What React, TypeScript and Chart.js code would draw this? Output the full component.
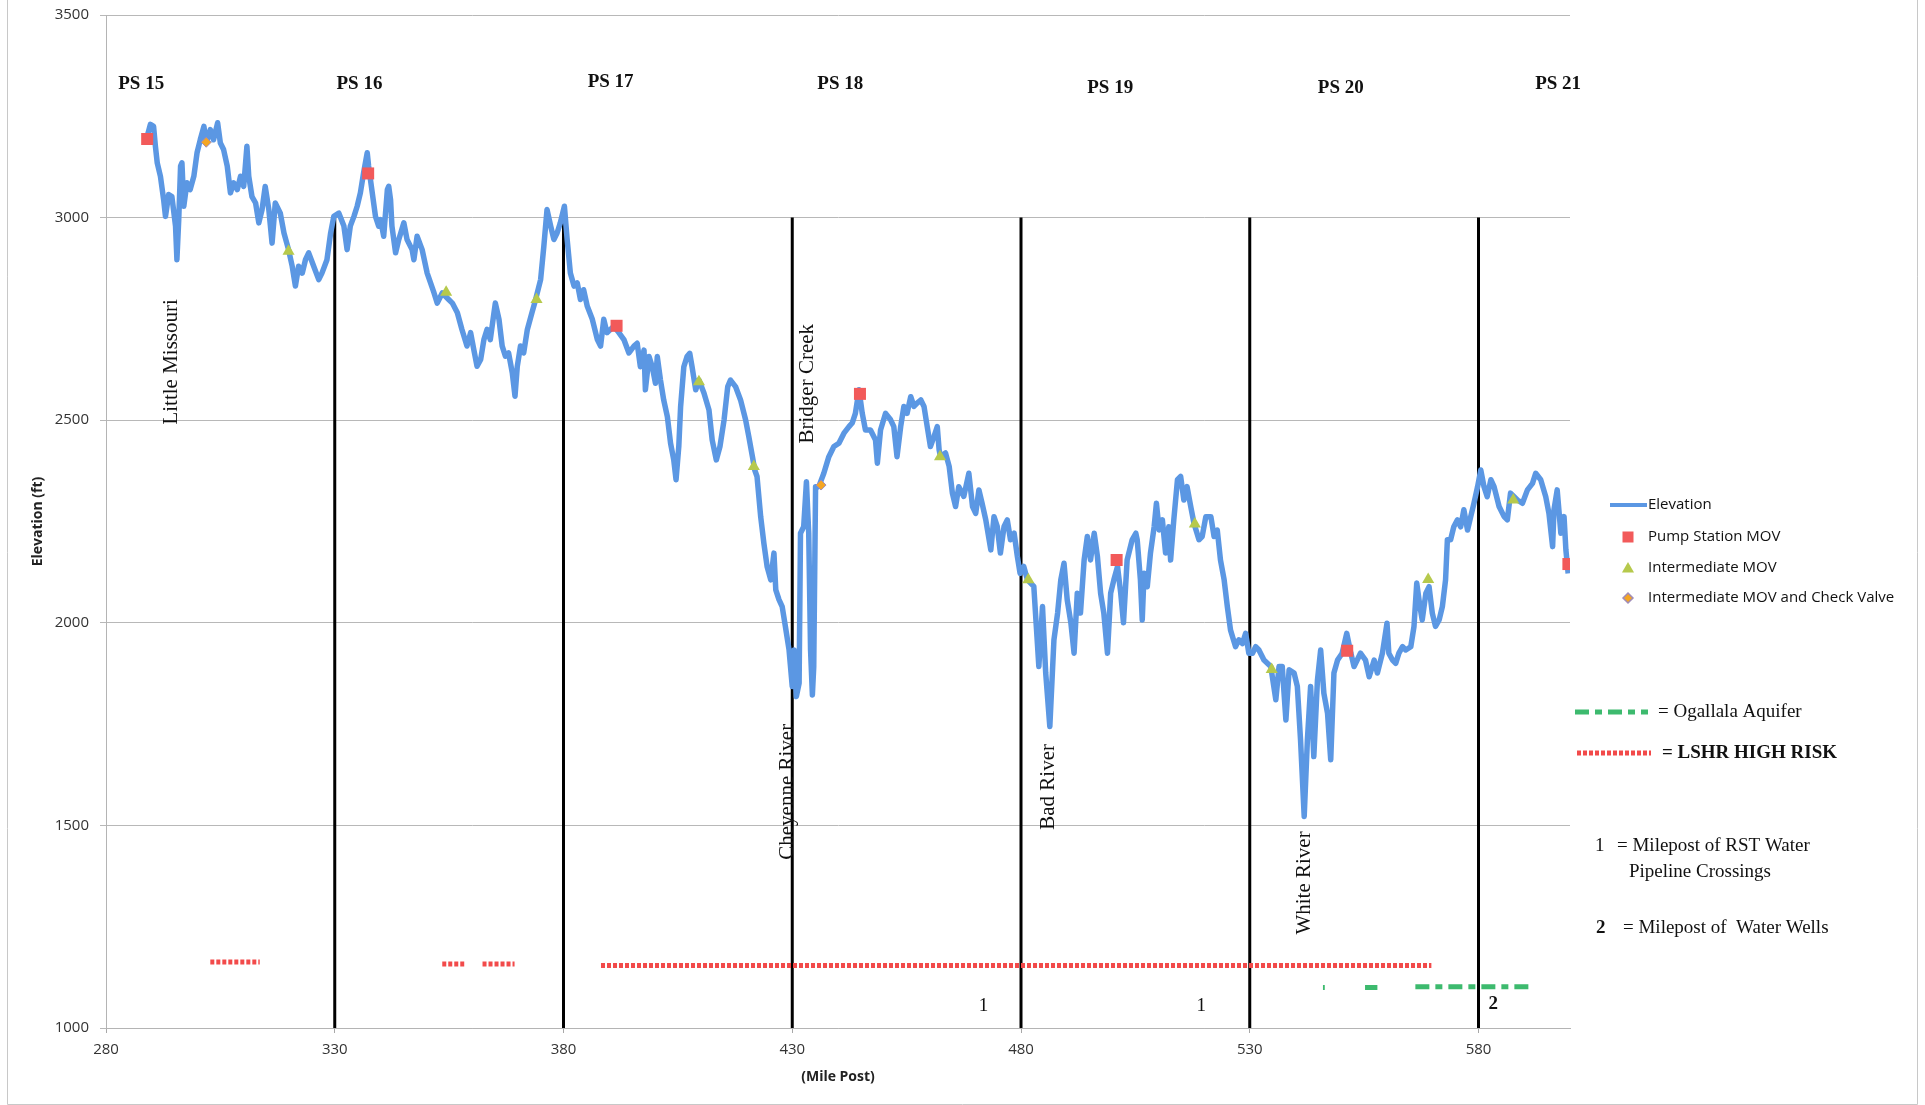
import React, { useEffect, useRef } from 'react';
import { Chart, registerables } from 'chart.js';

Chart.register(...registerables);

const W = 1925;
const H = 1105;

// ---------------- data ----------------
const xTickValues = [280, 330, 380, 430, 480, 530, 580];
const xMin = 280;
const xMax = 600;
const yMin = 1000;
const yMax = 3500;
const yStep = 500;

// elevation profile: [milepost, elevation ft]
const elevationProfile: [number, number][] = [
  [289.0, 3200], [289.7, 3230], [290.4, 3225], [290.8, 3176], [291.2, 3135], [291.9, 3102], [292.6, 3044], [293.0, 3003],
  [293.7, 3057], [294.4, 3052], [295.2, 2979], [295.5, 2896], [295.9, 2995], [296.3, 3127], [296.6, 3135], [297.0, 3028],
  [297.7, 3086], [298.4, 3069], [299.2, 3102], [299.9, 3160], [300.6, 3192], [301.4, 3225], [301.9, 3184], [302.8, 3217],
  [303.5, 3192], [304.4, 3234], [305.0, 3184], [305.7, 3168], [306.5, 3127], [307.2, 3061], [307.9, 3086], [308.7, 3069],
  [309.4, 3102], [310.1, 3077], [310.8, 3176], [311.2, 3102], [311.9, 3052], [312.7, 3036], [313.4, 2987], [314.1, 3019],
  [314.8, 3077], [315.6, 3019], [316.3, 2937], [317.0, 3036], [318.1, 3011], [318.9, 2962], [319.9, 2921], [320.7, 2880],
  [321.4, 2831], [322.1, 2880], [322.9, 2863], [323.6, 2896], [324.3, 2913], [325.4, 2880], [326.5, 2847], [327.2, 2863],
  [328.3, 2896], [329.1, 2962], [329.8, 3003], [330.9, 3011], [332.0, 2979], [332.7, 2921], [333.4, 2979], [334.2, 3003],
  [334.9, 3028], [335.6, 3061], [336.3, 3110], [337.1, 3160], [337.4, 3127], [338.2, 3061], [338.9, 3003], [339.6, 2979],
  [340.0, 2995], [340.7, 2954], [341.5, 3069], [341.8, 3077], [342.2, 3044], [342.5, 2979], [343.3, 2913], [344.0, 2946],
  [345.1, 2987], [345.8, 2946], [346.9, 2921], [347.3, 2896], [348.0, 2954], [349.1, 2921], [350.2, 2863], [351.7, 2814],
  [352.4, 2789], [353.5, 2814], [354.9, 2798], [355.7, 2789], [356.8, 2765], [357.8, 2724], [358.9, 2683], [359.7, 2716],
  [360.4, 2674], [361.1, 2633], [361.9, 2650], [362.6, 2699], [363.3, 2724], [364.0, 2699], [364.8, 2765], [365.1, 2789],
  [365.9, 2749], [366.6, 2683], [367.3, 2658], [368.0, 2666], [368.8, 2617], [369.4, 2559], [369.9, 2633], [370.6, 2683],
  [371.3, 2666], [372.1, 2724], [373.1, 2765], [373.7, 2789], [375.0, 2847], [375.7, 2929], [376.4, 3020], [377.2, 2979],
  [377.9, 2946], [378.6, 2962], [379.3, 2987], [380.2, 3028], [380.8, 2946], [381.5, 2863], [382.3, 2831], [383.0, 2839],
  [383.7, 2798], [384.4, 2822], [385.2, 2781], [386.3, 2749], [387.4, 2699], [388.1, 2683], [388.8, 2749], [389.5, 2716],
  [391.0, 2732], [392.1, 2716], [393.2, 2699], [394.3, 2666], [395.4, 2683],
  [396.1, 2690], [396.8, 2632], [397.6, 2673], [397.9, 2575], [398.7, 2657], [399.4, 2632], [400.1, 2591], [400.5, 2657],
  [401.2, 2599], [401.9, 2550], [402.7, 2509], [403.4, 2443], [404.1, 2402], [404.6, 2353], [405.2, 2435], [405.6, 2534],
  [406.3, 2632], [407.0, 2657], [407.6, 2665], [408.1, 2632], [408.9, 2575], [409.6, 2599], [410.7, 2567], [411.8, 2525],
  [412.5, 2451], [413.4, 2402], [414.2, 2435], [415.1, 2501], [415.9, 2583], [416.5, 2599], [417.6, 2583], [418.7, 2550],
  [419.8, 2501], [420.5, 2460], [421.3, 2410], [421.8, 2377], [422.3, 2361], [423.1, 2262], [423.8, 2196], [424.5, 2139],
  [425.3, 2106], [426.0, 2172], [426.4, 2081], [427.1, 2057], [427.8, 2040], [428.5, 1991], [429.3, 1933], [430.0, 1843],
  [430.4, 1933], [430.9, 1818], [431.5, 1851], [431.8, 2221], [432.5, 2237], [433.1, 2348], [433.6, 2221], [434.0, 1933],
  [434.4, 1822], [434.7, 1892], [435.1, 2336], [435.8, 2336], [436.9, 2369], [438.0, 2410], [439.1, 2435], [440.2, 2443],
  [441.3, 2468], [442.4, 2484], [443.1, 2493], [443.8, 2517], [444.6, 2575], [445.3, 2517], [446.0, 2476], [447.1, 2476],
  [448.2, 2451], [448.6, 2394], [449.3, 2476], [450.4, 2517],
  [451.5, 2501], [452.2, 2484], [452.9, 2410], [453.7, 2484], [454.4, 2534], [455.1, 2517], [455.9, 2558], [456.6, 2534],
  [457.3, 2542], [458.1, 2550], [458.8, 2534], [459.5, 2484], [460.2, 2435], [461.0, 2460], [461.7, 2484], [462.1, 2427],
  [462.4, 2410], [463.5, 2419], [464.3, 2386], [465.0, 2320], [465.7, 2287], [466.4, 2336], [467.5, 2312], [468.6, 2369],
  [469.4, 2287], [470.1, 2270], [470.8, 2328], [471.5, 2295], [472.3, 2254], [473.4, 2180], [474.1, 2262], [474.8, 2238],
  [475.5, 2172], [476.3, 2238], [477.0, 2254], [477.7, 2205], [478.5, 2221], [479.2, 2164], [479.8, 2122], [480.6, 2139],
  [481.4, 2106], [482.8, 2090], [483.9, 1892], [484.7, 2040], [485.4, 1876], [486.3, 1744], [487.2, 1958], [488.0, 2024],
  [488.7, 2106], [489.4, 2147], [490.1, 2057], [490.9, 2000], [491.6, 1925], [492.3, 2073], [493.0, 2024], [493.8, 2155],
  [494.5, 2213], [495.2, 2155], [496.0, 2221], [496.7, 2164], [497.4, 2073], [498.1, 2024], [498.9, 1925], [499.6, 2073],
  [500.3, 2106], [501.1, 2139], [501.8, 2073], [502.4, 2000], [503.2, 2155], [504.3, 2205], [505.1, 2221],
  [505.4, 2205], [506.1, 2106], [506.5, 2007], [506.9, 2122], [507.6, 2089], [508.3, 2172], [509.1, 2237], [509.6, 2295],
  [510.2, 2229], [510.9, 2254], [511.6, 2172], [512.3, 2237], [512.7, 2155], [513.4, 2254], [514.2, 2353], [514.9, 2361],
  [515.6, 2303], [516.3, 2336], [517.1, 2287], [517.8, 2246], [518.9, 2205], [519.6, 2213], [520.4, 2262], [521.5, 2262],
  [522.2, 2213], [522.9, 2229], [523.6, 2155], [524.4, 2106], [525.1, 2040], [525.8, 1982], [526.9, 1941], [527.6, 1958],
  [528.4, 1949], [529.1, 1974], [529.8, 1925], [530.6, 1925], [531.3, 1941], [532.0, 1933], [533.1, 1908], [534.6, 1892],
  [535.7, 1810], [536.4, 1892], [537.1, 1892], [537.9, 1760], [538.6, 1884], [539.7, 1876], [540.4, 1843], [541.1, 1711],
  [541.9, 1522], [542.6, 1711], [543.3, 1843], [544.0, 1670], [544.8, 1859], [545.5, 1933], [546.2, 1826], [547.0, 1777],
  [547.7, 1662], [548.4, 1876], [549.2, 1908], [550.2, 1925], [551.2, 1974], [552.1, 1925], [552.8, 1892], [554.2, 1925],
  [555.3, 1908], [556.1, 1867], [557.2, 1908], [557.9, 1876], [559.0, 1925], [560.0, 1999],
  [560.4, 1925], [561.2, 1908], [561.9, 1900], [562.6, 1925], [563.4, 1941], [564.1, 1933], [565.2, 1941], [565.9, 1991],
  [566.5, 2098], [567.2, 2040], [567.7, 2007], [568.5, 2073], [569.2, 2089], [569.9, 2024], [570.6, 1991], [571.4, 2007],
  [572.1, 2040], [572.8, 2106], [573.2, 2205], [573.9, 2205], [574.6, 2237], [575.4, 2254], [576.1, 2237], [576.8, 2279],
  [577.6, 2229], [578.3, 2262], [579.0, 2295], [579.8, 2336], [580.5, 2377], [581.2, 2336], [581.9, 2311], [582.7, 2353],
  [583.4, 2336], [584.5, 2287], [585.6, 2262], [586.3, 2254], [587.0, 2320], [588.5, 2303], [589.6, 2295], [590.7, 2328],
  [591.8, 2344], [592.5, 2369], [593.6, 2353], [594.7, 2311], [595.4, 2270], [596.2, 2188], [596.5, 2279], [597.2, 2328],
  [598.0, 2221], [598.7, 2262], [599.1, 2180], [599.6, 2122],
];

const pumpMiles = [289.0, 337.3, 391.6, 444.8, 500.9, 551.3, 599.65];
const pumpElev = [3194, 3109, 2733, 2565, 2155, 1931, 2145];

const midMiles = [319.9, 354.35, 374.1, 409.6, 421.6, 462.3, 481.6, 518.0, 534.8, 569.0, 587.6];
const midElev = [2917, 2816, 2798, 2595, 2386, 2410, 2106, 2244, 1885, 2107, 2303];

const checkMiles = [301.9, 436.3];
const checkElev = [3186, 2340];

const stationMiles = [330, 380, 430, 480, 530, 580];
const stationLineTop = 3000;

const psNames = ['PS 15', 'PS 16', 'PS 17', 'PS 18', 'PS 19', 'PS 20', 'PS 21'];
const psLabelMiles = [287.7, 335.4, 390.3, 440.5, 499.5, 549.9, 597.4];
const psLabelElev = [3329, 3329, 3335, 3329, 3320, 3320, 3329];

const riverNames = ['Little Missouri', 'Bridger Creek', 'Cheyenne River', 'Bad River', 'White River'];
const riverMiles = [294.4, 433.3, 429.0, 486.1, 542.0];
const riverElev = [2644, 2590, 1583, 1595, 1358];

const crossingMarks = ['1', '1', '2'];
const crossingMiles = [471.8, 519.4, 583.2];
const crossingElev = [1055, 1055, 1058];

const riskStart = [302.8, 353.5, 362.3, 388.2];
const riskEnd = [313.6, 358.3, 369.3, 569.7];
const riskElev = [1163, 1158, 1158, 1154];

const aquiferStart = [546.0, 555.2, 566.2];
const aquiferEnd = [546.4, 557.9, 591.6];
const aquiferElev = [1100, 1100, 1102];

// ---------------- styles ----------------
const BLUE = '#5b97e3';
const RED_SQ = '#f25a5a';
const TRI = '#b6c94c';
const DIA = '#f5a623';
const DIA_BORDER = '#a08cb8';
const RISK = '#f24a4a';
const AQUI = '#3dba6e';
const SERIF = '"Liberation Serif", "Times New Roman", serif';
const SANS = '"Open Sans", sans-serif';

const pts = (xs: number[], ys: number[]) => xs.map((x, i) => ({ x, y: ys[i] }));
const segs = (s: number[], e: number[], v: number[]) => {
  const out: { x: number; y: number | null }[] = [];
  s.forEach((x0, i) => {
    out.push({ x: x0, y: v[i] }, { x: e[i], y: v[i] }, { x: e[i], y: null });
  });
  return out;
};
const verticals = () => {
  const out: { x: number; y: number | null }[] = [];
  stationMiles.forEach((m) => {
    out.push({ x: m, y: yMin }, { x: m, y: stationLineTop }, { x: m, y: null });
  });
  return out;
};

function drawTri(ctx: CanvasRenderingContext2D, cx: number, cy: number, r: number) {
  ctx.beginPath();
  ctx.moveTo(cx, cy - r);
  ctx.lineTo(cx + r * 0.866, cy + r / 2);
  ctx.lineTo(cx - r * 0.866, cy + r / 2);
  ctx.closePath();
  ctx.fill();
}
function drawDia(ctx: CanvasRenderingContext2D, cx: number, cy: number, r: number) {
  ctx.beginPath();
  ctx.moveTo(cx - r, cy);
  ctx.lineTo(cx, cy - r);
  ctx.lineTo(cx + r, cy);
  ctx.lineTo(cx, cy + r);
  ctx.closePath();
  ctx.fill();
  ctx.stroke();
}

const annotatePlugin = {
  id: 'annotate',
  afterDatasetsDraw(chart: any) {
    const { ctx } = chart;
    const x = chart.scales.x;
    const y = chart.scales.y;
    ctx.save();
    ctx.fillStyle = '#111';
    ctx.textAlign = 'center';
    ctx.textBaseline = 'middle';
    ctx.font = `bold 19px ${SERIF}`;
    psNames.forEach((t, i) => {
      ctx.fillText(t, x.getPixelForValue(psLabelMiles[i]), y.getPixelForValue(psLabelElev[i]));
    });
    ctx.font = `21px ${SERIF}`;
    riverNames.forEach((t, i) => {
      ctx.save();
      ctx.translate(x.getPixelForValue(riverMiles[i]), y.getPixelForValue(riverElev[i]));
      ctx.rotate(-Math.PI / 2);
      ctx.fillText(t, 0, 0);
      ctx.restore();
    });
    crossingMarks.forEach((t, i) => {
      ctx.font = t === '2' ? `bold 19px ${SERIF}` : `19px ${SERIF}`;
      ctx.fillText(t, x.getPixelForValue(crossingMiles[i]), y.getPixelForValue(crossingElev[i]));
    });
    ctx.restore();
  },
  afterDraw(chart: any) {
    const { ctx } = chart;
    const ds = chart.data.datasets;
    ctx.save();
    // outer frame
    ctx.strokeStyle = '#c8c8c8';
    ctx.lineWidth = 1;
    ctx.beginPath();
    ctx.moveTo(7.5, 0);
    ctx.lineTo(7.5, 1104.5);
    ctx.lineTo(1917.5, 1104.5);
    ctx.lineTo(1917.5, 0);
    ctx.stroke();

    // series legend
    const lx = 1628;
    const tx = 1648;
    ctx.font = `15px ${SANS}`;
    ctx.textAlign = 'left';
    ctx.textBaseline = 'middle';
    ctx.strokeStyle = BLUE;
    ctx.lineWidth = 4;
    ctx.beginPath();
    ctx.moveTo(1610, 505);
    ctx.lineTo(1647, 505);
    ctx.stroke();
    ctx.fillStyle = '#111';
    ctx.fillText(ds[3].label, tx, 505);
    ctx.fillStyle = RED_SQ;
    ctx.fillRect(lx - 5.5, 537 - 5.5, 11, 11);
    ctx.fillStyle = '#111';
    ctx.fillText(ds[0].label, tx, 537);
    ctx.fillStyle = TRI;
    drawTri(ctx, lx, 569, 7);
    ctx.fillStyle = '#111';
    ctx.fillText(ds[1].label, tx, 568);
    ctx.fillStyle = DIA;
    ctx.strokeStyle = DIA_BORDER;
    ctx.lineWidth = 1.5;
    drawDia(ctx, lx, 598, 5);
    ctx.fillStyle = '#111';
    ctx.fillText(ds[2].label, tx, 598);

    // line-style key
    ctx.lineCap = 'butt';
    ctx.strokeStyle = AQUI;
    ctx.lineWidth = 5;
    ctx.setLineDash([14, 6, 7, 6]);
    ctx.beginPath();
    ctx.moveTo(1575, 712);
    ctx.lineTo(1648, 712);
    ctx.stroke();
    ctx.strokeStyle = RISK;
    ctx.setLineDash([4, 2]);
    ctx.beginPath();
    ctx.moveTo(1577, 753);
    ctx.lineTo(1651, 753);
    ctx.stroke();
    ctx.setLineDash([]);

    ctx.fillStyle = '#111';
    ctx.font = `19px ${SERIF}`;
    ctx.fillText('= ' + ds[5].label, 1658, 712);
    ctx.font = `bold 19px ${SERIF}`;
    ctx.fillText('= ' + ds[4].label, 1662, 753);

    ctx.font = `19px ${SERIF}`;
    ctx.fillText('1', 1595, 846);
    ctx.fillText('= Milepost of RST Water', 1617, 846);
    ctx.fillText('Pipeline Crossings', 1629, 872);
    ctx.font = `bold 19px ${SERIF}`;
    ctx.fillText('2', 1596, 928);
    ctx.font = `19px ${SERIF}`;
    ctx.fillText('= Milepost of  Water Wells', 1623, 928);
    ctx.restore();
  },
};

export default function App() {
  const ref = useRef<HTMLCanvasElement>(null);

  useEffect(() => {
    const canvas = ref.current;
    if (!canvas) return;
    Chart.defaults.font.family = SANS;
    const chart = new Chart(canvas, {
      type: 'line',
      data: {
        datasets: [
          {
            label: 'Pump Station MOV',
            data: pts(pumpMiles, pumpElev),
            showLine: false,
            pointStyle: 'rect',
            pointRadius: 8.5,
            pointBackgroundColor: RED_SQ,
            pointBorderWidth: 0,
          },
          {
            label: 'Intermediate MOV',
            data: pts(midMiles, midElev),
            showLine: false,
            pointStyle: 'triangle',
            pointRadius: 7,
            pointBackgroundColor: TRI,
            pointBorderWidth: 0,
          },
          {
            label: 'Intermediate MOV and Check Valve',
            data: pts(checkMiles, checkElev),
            showLine: false,
            pointStyle: 'rectRot',
            pointRadius: 5,
            pointBackgroundColor: DIA,
            pointBorderColor: DIA_BORDER,
            pointBorderWidth: 1,
          },
          {
            label: 'Elevation',
            data: elevationProfile.map(([x, y]) => ({ x, y })),
            borderColor: BLUE,
            borderWidth: 5.5,
            borderJoinStyle: 'round',
            pointRadius: 0,
            tension: 0,
          },
          {
            label: 'LSHR HIGH RISK',
            data: segs(riskStart, riskEnd, riskElev),
            borderColor: RISK,
            borderWidth: 5,
            borderDash: [4, 2],
            borderCapStyle: 'butt',
            pointRadius: 0,
            spanGaps: false,
          },
          {
            label: 'Ogallala Aquifer',
            data: segs(aquiferStart, aquiferEnd, aquiferElev),
            borderColor: AQUI,
            borderWidth: 5,
            borderDash: [14, 6, 7, 6],
            borderCapStyle: 'butt',
            pointRadius: 0,
            spanGaps: false,
          },
          {
            label: 'Pump stations',
            data: verticals(),
            borderColor: '#000',
            borderWidth: 3,
            pointRadius: 0,
            spanGaps: false,
          },
        ] as any,
      },
      options: {
        responsive: false,
        animation: false,
        devicePixelRatio: 1,
        layout: { padding: { left: 0, right: 355, top: 15, bottom: 0 } },
        plugins: {
          legend: { display: false },
          tooltip: { enabled: false },
        },
        scales: {
          x: {
            type: 'linear',
            min: xMin,
            max: xMax,
            afterBuildTicks: (s: any) => {
              s.ticks = xTickValues.map((v) => ({ value: v }));
            },
            afterFit: (s: any) => {
              s.height = 77;
            },
            grid: { drawOnChartArea: false, drawTicks: true, tickLength: 5, color: '#a8a8a8' },
            border: { display: true, color: '#b4b4b4' },
            ticks: {
              font: { size: 15, family: SANS },
              color: '#333',
              padding: 8,
              maxRotation: 0,
              autoSkip: false,
              callback: (v: any) => String(v),
            },
            title: {
              display: true,
              text: '(Mile Post)',
              font: { size: 14, weight: 'bold', family: SANS },
              color: '#222',
              padding: { top: 0, bottom: 20 },
            },
          },
          y: {
            type: 'linear',
            min: yMin,
            max: yMax,
            afterFit: (s: any) => {
              s.width = 106;
              s.paddingTop = 0;
              s.paddingBottom = 0;
            },
            grid: { color: '#b8b8b8', tickLength: 6, drawTicks: true },
            border: { display: true, color: '#b4b4b4' },
            ticks: {
              stepSize: yStep,
              font: { size: 15, family: SANS },
              color: '#333',
              padding: 11,
              callback: (v: any) => String(v),
            },
            title: {
              display: true,
              text: 'Elevation (ft)',
              font: { size: 14, weight: 'bold', family: SANS },
              color: '#222',
              padding: { top: 30, bottom: 0 },
            },
          },
        },
      } as any,
      plugins: [annotatePlugin],
    });
    return () => chart.destroy();
  }, []);

  return (
    <div style={{ position: 'absolute', left: 0, top: 0, width: W, height: H, background: '#fff' }}>
      <canvas ref={ref} width={W} height={H} style={{ display: 'block', width: W, height: H }} />
    </div>
  );
}
